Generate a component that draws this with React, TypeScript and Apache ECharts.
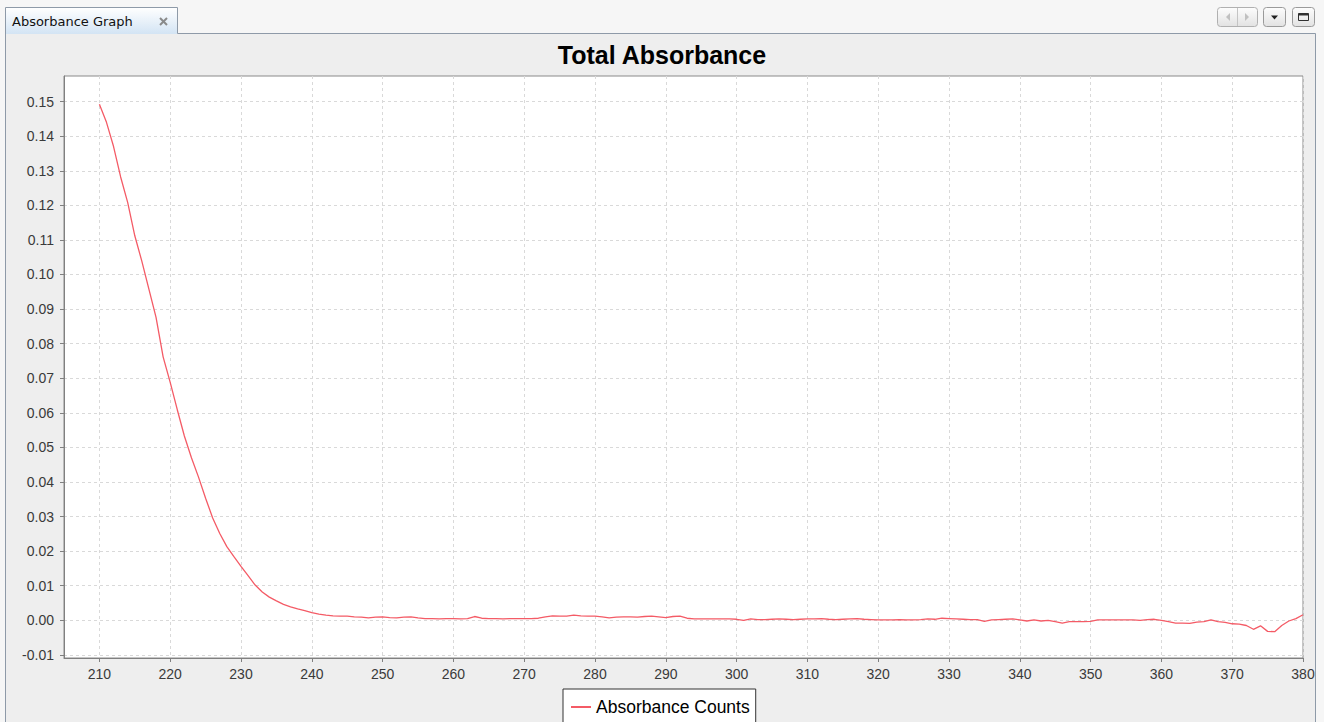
import React, { useEffect, useRef } from "react";
import * as echarts from "echarts";

const wavelengths: number[] = [
  210, 211, 212, 213, 214, 215, 216, 217, 218, 219,
  220, 221, 222, 223, 224, 225, 226, 227, 228, 229,
  230, 231, 232, 233, 234, 235, 236, 237, 238, 239,
  240, 241, 242, 243, 244, 245, 246, 247, 248, 249,
  250, 251, 252, 253, 254, 255, 256, 257, 258, 259,
  260, 261, 262, 263, 264, 265, 266, 267, 268, 269,
  270, 271, 272, 273, 274, 275, 276, 277, 278, 279,
  280, 281, 282, 283, 284, 285, 286, 287, 288, 289,
  290, 291, 292, 293, 294, 295, 296, 297, 298, 299,
  300, 301, 302, 303, 304, 305, 306, 307, 308, 309,
  310, 311, 312, 313, 314, 315, 316, 317, 318, 319,
  320, 321, 322, 323, 324, 325, 326, 327, 328, 329,
  330, 331, 332, 333, 334, 335, 336, 337, 338, 339,
  340, 341, 342, 343, 344, 345, 346, 347, 348, 349,
  350, 351, 352, 353, 354, 355, 356, 357, 358, 359,
  360, 361, 362, 363, 364, 365, 366, 367, 368, 369,
  370, 371, 372, 373, 374, 375, 376, 377, 378, 379,
  380,
];

const absorbanceCounts: number[] = [
  0.1492, 0.1440, 0.1370, 0.1282, 0.1208, 0.1112, 0.1038, 0.0957, 0.0876, 0.0762,
  0.0688, 0.0609, 0.0533, 0.0470, 0.0414, 0.0353, 0.0296, 0.0251, 0.0213, 0.0184,
  0.0156, 0.0129, 0.0102, 0.0082, 0.0067, 0.0056, 0.0046, 0.0039, 0.0033, 0.0028,
  0.0022, 0.0018, 0.0015, 0.0013, 0.0012, 0.0012, 0.0010, 0.0009, 0.0007, 0.0009,
  0.0010, 0.0008, 0.0007, 0.0009, 0.0010, 0.0007, 0.0005, 0.0005, 0.0004, 0.0005,
  0.0005, 0.0004, 0.0005, 0.0011, 0.0006, 0.0005, 0.0005, 0.0004, 0.0005, 0.0005,
  0.0005, 0.0005, 0.0006, 0.0010, 0.0013, 0.0012, 0.0012, 0.0015, 0.0013, 0.0012,
  0.0012, 0.0010, 0.0007, 0.0009, 0.0010, 0.0010, 0.0009, 0.0011, 0.0012, 0.0010,
  0.0008, 0.0011, 0.0012, 0.0006, 0.0004, 0.0004, 0.0004, 0.0004, 0.0004, 0.0004,
  0.0003, 0.0000, 0.0004, 0.0002, 0.0002, 0.0003, 0.0004, 0.0003, 0.0002, 0.0003,
  0.0004, 0.0004, 0.0005, 0.0003, 0.0002, 0.0003, 0.0004, 0.0005, 0.0003, 0.0002,
  0.0001, 0.0001, 0.0001, 0.0002, 0.0001, 0.0001, 0.0002, 0.0004, 0.0003, 0.0006,
  0.0005, 0.0004, 0.0003, 0.0002, 0.0002, -0.0003, 0.0001, 0.0002, 0.0003, 0.0004,
  0.0001, -0.0002, 0.0001, -0.0002, 0.0000, -0.0004, -0.0008, -0.0004, -0.0004, -0.0004,
  -0.0003, 0.0001, 0.0001, 0.0001, 0.0001, 0.0001, 0.0001, 0.0000, 0.0002, 0.0003,
  0.0000, -0.0004, -0.0008, -0.0008, -0.0009, -0.0005, -0.0004, 0.0001, -0.0004, -0.0006,
  -0.0010, -0.0011, -0.0015, -0.0026, -0.0016, -0.0032, -0.0033, -0.0015, -0.0002, 0.0005,
  0.0016,
];

const xTicks: number[] = [
  210, 220, 230, 240, 250, 260, 270, 280, 290, 300, 310, 320, 330, 340, 350, 360, 370, 380,
];
const yTicks: number[] = [
  -0.01, 0.0, 0.01, 0.02, 0.03, 0.04, 0.05, 0.06, 0.07, 0.08, 0.09, 0.1, 0.11, 0.12, 0.13,
  0.14, 0.15,
];

const titleText = "Total Absorbance";
const seriesName = "Absorbance Counts";
const tabTitle = "Absorbance Graph";

const SANS = "'Liberation Sans', Arial, sans-serif";

export default function App() {
  const ref = useRef<HTMLDivElement | null>(null);

  useEffect(() => {
    if (!ref.current) return;
    const chart = echarts.init(ref.current, undefined, { renderer: "svg" });

    const btnFill = new echarts.graphic.LinearGradient(0, 0, 0, 1, [
      { offset: 0, color: "#fdfdfd" },
      { offset: 1, color: "#e2e2e2" },
    ]);
    const tabFill = new echarts.graphic.LinearGradient(0, 0, 0, 1, [
      { offset: 0, color: "#ffffff" },
      { offset: 1, color: "#d3e4f4" },
    ]);

    const option: any = {
      animation: false,
      backgroundColor: "#eeeeee",
      title: {
        text: titleText,
        left: "center",
        top: 42,
        padding: 0,
        textStyle: {
          fontFamily: SANS,
          fontSize: 25,
          fontWeight: "bold",
          color: "#000000",
        },
      },
      legend: {
        data: [seriesName],
        left: 563,
        top: 689,
        padding: [6, 6, 6, 7],
        itemWidth: 20,
        itemHeight: 2,
        itemGap: 5,
        backgroundColor: "#ffffff",
        borderColor: "#333333",
        borderWidth: 1,
        borderRadius: 0,
        textStyle: {
          fontFamily: SANS,
          fontSize: 17.5,
          color: "#000000",
          lineHeight: 24,
        },
      },
      grid: {
        left: 64,
        right: 21,
        top: 76,
        bottom: 64,
        show: true,
        backgroundColor: "#ffffff",
        borderColor: "#8a8a8a",
        borderWidth: 1,
      },
      xAxis: {
        type: "value",
        min: 205,
        max: 380,
        minInterval: 10,
        maxInterval: 10,
        axisLine: { show: true, onZero: false, lineStyle: { color: "#808080", width: 1 } },
        axisTick: {
          show: true,
          length: 4,
          customValues: xTicks,
          lineStyle: { color: "#808080" },
        },
        axisLabel: {
          customValues: xTicks,
          showMinLabel: true,
          showMaxLabel: true,
          margin: 9,
          fontFamily: SANS,
          fontSize: 14,
          color: "#3a3a3a",
          formatter: (v: number) => String(Math.round(v)),
        },
        splitLine: {
          show: true,
          lineStyle: { color: "#d9d9d9", type: [3, 3], width: 1 },
        },
      },
      yAxis: {
        type: "value",
        min: -0.0109,
        max: 0.1574,
        minInterval: 0.01,
        maxInterval: 0.01,
        axisLine: { show: true, onZero: false, lineStyle: { color: "#808080", width: 1 } },
        axisTick: {
          show: true,
          length: 4,
          customValues: yTicks,
          lineStyle: { color: "#808080" },
        },
        axisLabel: {
          customValues: yTicks,
          margin: 10,
          fontFamily: SANS,
          fontSize: 14,
          color: "#3a3a3a",
          formatter: (v: number) => v.toFixed(2),
        },
        splitLine: {
          show: true,
          lineStyle: { color: "#d9d9d9", type: [3, 3], width: 1 },
        },
      },
      series: [
        {
          name: seriesName,
          type: "line",
          symbol: "none",
          showSymbol: false,
          data: wavelengths.map((w, i) => [w, absorbanceCounts[i]]),
          lineStyle: { color: "#f45b66", width: 1.3 },
          itemStyle: { color: "#f45b66" },
          emphasis: { disabled: true },
        },
      ],
      graphic: [
        { type: "rect", silent: true, shape: { x: 0, y: 0, width: 1324, height: 33 }, style: { fill: "#f6f6f6" } },
        { type: "rect", silent: true, shape: { x: 0, y: 0, width: 5, height: 722 }, style: { fill: "#f6f6f6" } },
        { type: "rect", silent: true, shape: { x: 1316, y: 0, width: 8, height: 722 }, style: { fill: "#f6f6f6" } },
        { type: "rect", silent: true, shape: { x: 5.5, y: 7.5, width: 172, height: 26.5 }, style: { fill: tabFill } },
        {
          type: "polyline",
          silent: true,
          shape: {
            points: [
              [5.5, 722],
              [5.5, 7.5],
              [177.5, 7.5],
              [177.5, 33.5],
              [1315.5, 33.5],
              [1315.5, 722],
            ],
          },
          style: { stroke: "#8e9aa8", lineWidth: 1, fill: "none" },
        },
        {
          type: "text",
          silent: true,
          x: 12,
          y: 21,
          style: {
            text: tabTitle,
            fontFamily: "'DejaVu Sans', sans-serif",
            fontSize: 13,
            fill: "#111111",
            verticalAlign: "middle",
          },
        },
        { type: "line", silent: true, shape: { x1: 160, y1: 18, x2: 167, y2: 25 }, style: { stroke: "#8a8a8a", lineWidth: 2 } },
        { type: "line", silent: true, shape: { x1: 167, y1: 18, x2: 160, y2: 25 }, style: { stroke: "#8a8a8a", lineWidth: 2 } },
        { type: "rect", silent: true, shape: { x: 1217.5, y: 7.5, width: 40, height: 19, r: 3 }, style: { fill: btnFill, stroke: "#b0b0b0", lineWidth: 1 } },
        { type: "line", silent: true, shape: { x1: 1237.5, y1: 8, x2: 1237.5, y2: 26 }, style: { stroke: "#c4c4c4", lineWidth: 1 } },
        { type: "polygon", silent: true, shape: { points: [[1230, 13], [1226, 17], [1230, 21]] }, style: { fill: "#c0c0c0" } },
        { type: "polygon", silent: true, shape: { points: [[1245, 13], [1249, 17], [1245, 21]] }, style: { fill: "#c0c0c0" } },
        { type: "rect", silent: true, shape: { x: 1263.5, y: 7.5, width: 22, height: 19, r: 3 }, style: { fill: btnFill, stroke: "#9a9a9a", lineWidth: 1 } },
        { type: "polygon", silent: true, shape: { points: [[1271, 15.5], [1278, 15.5], [1274.5, 19.5]] }, style: { fill: "#202020" } },
        { type: "rect", silent: true, shape: { x: 1292.5, y: 7.5, width: 22, height: 19, r: 3 }, style: { fill: btnFill, stroke: "#9a9a9a", lineWidth: 1 } },
        { type: "rect", silent: true, shape: { x: 1298.5, y: 13.5, width: 10, height: 7 }, style: { fill: "none", stroke: "#303030", lineWidth: 1 } },
        { type: "line", silent: true, shape: { x1: 1298.5, y1: 14.5, x2: 1308.5, y2: 14.5 }, style: { stroke: "#303030", lineWidth: 2 } },
      ],
    };

    chart.setOption(option);
    return () => {
      chart.dispose();
    };
  }, []);

  return (
    <div
      ref={ref}
      style={{ position: "fixed", left: 0, top: 0, width: 1324, height: 722 }}
    />
  );
}
